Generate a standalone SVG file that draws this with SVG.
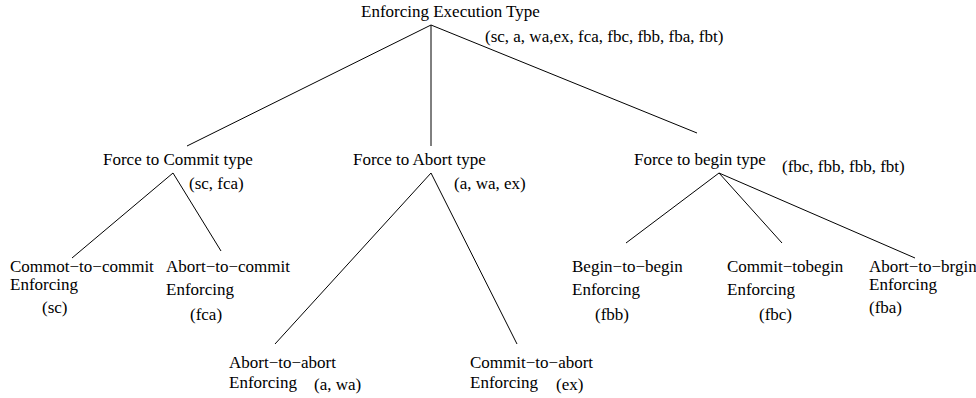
<svg xmlns="http://www.w3.org/2000/svg" width="976" height="398" viewBox="0 0 976 398">
<style>
text { font-family: "Liberation Serif", "Times New Roman", serif; font-size: 17px; fill: #000; }
.edge { stroke: #000; stroke-width: 1; fill: none; }
</style>
<rect width="976" height="398" fill="#fff"/>
<g id="connectors">
<line class="edge" x1="431" y1="25" x2="187" y2="146"/>
<line class="edge" x1="431" y1="25" x2="431" y2="146"/>
<line class="edge" x1="431" y1="25" x2="697" y2="133"/>
<line class="edge" x1="173" y1="173" x2="72" y2="258"/>
<line class="edge" x1="173" y1="173" x2="221" y2="251"/>
<line class="edge" x1="431" y1="173" x2="275" y2="344"/>
<line class="edge" x1="431" y1="173" x2="517" y2="344"/>
<line class="edge" x1="719" y1="173" x2="626" y2="243"/>
<line class="edge" x1="719" y1="173" x2="782" y2="243"/>
<line class="edge" x1="719" y1="173" x2="915" y2="258"/>
</g>
<g id="root">
<text x="361" y="17">Enforcing Execution Type</text>
<text x="485" y="42">(sc, a, wa,ex, fca, fbc, fbb, fba, fbt)</text>
</g>
<g id="force-commit">
<text x="103" y="165">Force to Commit type</text>
<text x="189" y="189">(sc, fca)</text>
</g>
<g id="force-abort">
<text x="353" y="165">Force to Abort type</text>
<text x="454" y="189">(a, wa, ex)</text>
</g>
<g id="force-begin">
<text x="634" y="165">Force to begin type</text>
<text x="782" y="172">(fbc, fbb, fbb, fbt)</text>
</g>
<g id="commit-to-commit">
<text x="10" y="272">Commot−to−commit</text>
<text x="10" y="290">Enforcing</text>
<text x="42" y="313">(sc)</text>
</g>
<g id="abort-to-commit">
<text x="166" y="272">Abort−to−commit</text>
<text x="166" y="295">Enforcing</text>
<text x="190" y="320">(fca)</text>
</g>
<g id="abort-to-abort">
<text x="229" y="368">Abort−to−abort</text>
<text x="229" y="388">Enforcing</text>
<text x="314" y="390">(a, wa)</text>
</g>
<g id="commit-to-abort">
<text x="470" y="368">Commit−to−abort</text>
<text x="470" y="388">Enforcing</text>
<text x="556" y="390">(ex)</text>
</g>
<g id="begin-to-begin">
<text x="572" y="272">Begin−to−begin</text>
<text x="572" y="295">Enforcing</text>
<text x="595" y="320">(fbb)</text>
</g>
<g id="commit-to-begin">
<text x="727" y="272">Commit−tobegin</text>
<text x="727" y="295">Enforcing</text>
<text x="759" y="320">(fbc)</text>
</g>
<g id="abort-to-begin">
<text x="869" y="272">Abort−to−brgin</text>
<text x="869" y="290">Enforcing</text>
<text x="869" y="313">(fba)</text>
</g>
</svg>
